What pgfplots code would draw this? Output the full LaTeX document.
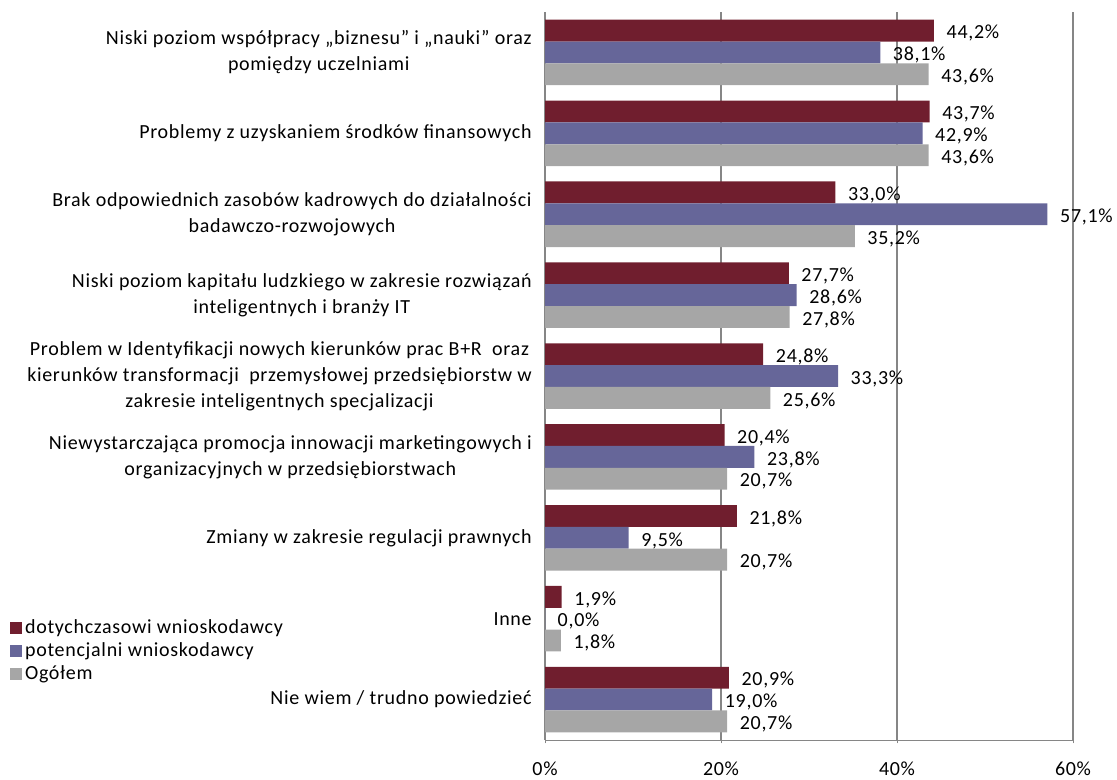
\documentclass[border=0pt]{standalone}
\usepackage{fontspec}
\setmainfont[LetterSpace=3.5]{Carlito}
\usepackage{pgfplots}
\pgfplotsset{compat=1.18}
\definecolor{cdot}{HTML}{701E2E}
\definecolor{cpot}{HTML}{666699}
\definecolor{cog}{HTML}{A6A6A6}
\definecolor{cax}{HTML}{868686}
\begin{document}
\begin{tikzpicture}
\useasboundingbox (0,0) rectangle (837.75pt,-584.25pt);
\begin{axis}[
  at={(408.75pt,-555pt)}, anchor=south west,
  scale only axis, width=396pt, height=546pt,
  xbar, bar width=0.27,
  xmin=0, xmax=60, ymin=-0.5, ymax=8.5,
  y dir=reverse,
  axis lines=left, axis line style={-, draw=cax},
  major tick length=5pt,
  xtick={0,20,40,60},
  xticklabel={\pgfmathprintnumber{\tick}\%},
  xmajorgrids, grid style={draw=cax, line width=0.8pt},
  x tick style={draw=cax},
  ytick={0,...,8},
  y tick style={draw=none},
  extra y ticks={-0.5,0.5,1.5,2.5,3.5,4.5,5.5,6.5,7.5,8.5},
  extra y tick labels={},
  extra y tick style={tick style={draw=cax}, tick align=outside},
  yticklabels={
    {Niski poziom współpracy „biznesu” i „nauki” oraz\\pomiędzy uczelniami},
    {Problemy z uzyskaniem środków finansowych},
    {Brak odpowiednich zasobów kadrowych do działalności\\badawczo-rozwojowych},
    {Niski poziom kapitału ludzkiego w zakresie rozwiązań\\inteligentnych i branży IT},
    {Problem w Identyfikacji nowych kierunków prac B+R\ \ oraz\\kierunków transformacji\ \ przemysłowej przedsiębiorstw w\\zakresie inteligentnych specjalizacji},
    {Niewystarczająca promocja innowacji marketingowych i\\organizacyjnych w przedsiębiorstwach},
    {Zmiany w zakresie regulacji prawnych},
    {Inne},
    {Nie wiem / trudno powiedzieć}},
  yticklabel style={align=center, font=\fontsize{15}{19.5}\selectfont, xshift=-4pt},
  xticklabel style={font=\fontsize{15}{17}\selectfont, yshift=-10pt},
  /pgf/number format/assume math mode=true,
  nodes near coords={\pgfmathprintnumber[fixed,fixed zerofill,precision=1,use comma]{\pgfplotspointmeta}\%},
  nodes near coords style={font=\fontsize{15}{17}\selectfont, text=black, xshift=6pt, yshift=-2pt},
  legend style={draw=none, fill=none, at={(-1.013,0.169)}, anchor=north west,
    font=\fontsize{15}{17}\selectfont, row sep=1.2pt, inner sep=0pt},
  legend cell align=left,
  legend image code/.code={\fill[#1] (0pt,-4.5pt) rectangle (9pt,4.5pt);},
]
\addplot[fill=cdot, draw=none, bar shift=-0.27] coordinates {
(44.2,0) (43.7,1) (33.0,2) (27.7,3) (24.8,4) (20.4,5) (21.8,6) (1.9,7) (20.9,8)};
\addplot[fill=cpot, draw=none, bar shift=0] coordinates {
(38.1,0) (42.9,1) (57.1,2) (28.6,3) (33.3,4) (23.8,5) (9.5,6) (0.0,7) (19.0,8)};
\addplot[fill=cog, draw=none, bar shift=0.27] coordinates {
(43.6,0) (43.6,1) (35.2,2) (27.8,3) (25.6,4) (20.7,5) (20.7,6) (1.8,7) (20.7,8)};
\legend{dotychczasowi wnioskodawcy, potencjalni wnioskodawcy, Ogółem}
\end{axis}
\end{tikzpicture}
\end{document}
